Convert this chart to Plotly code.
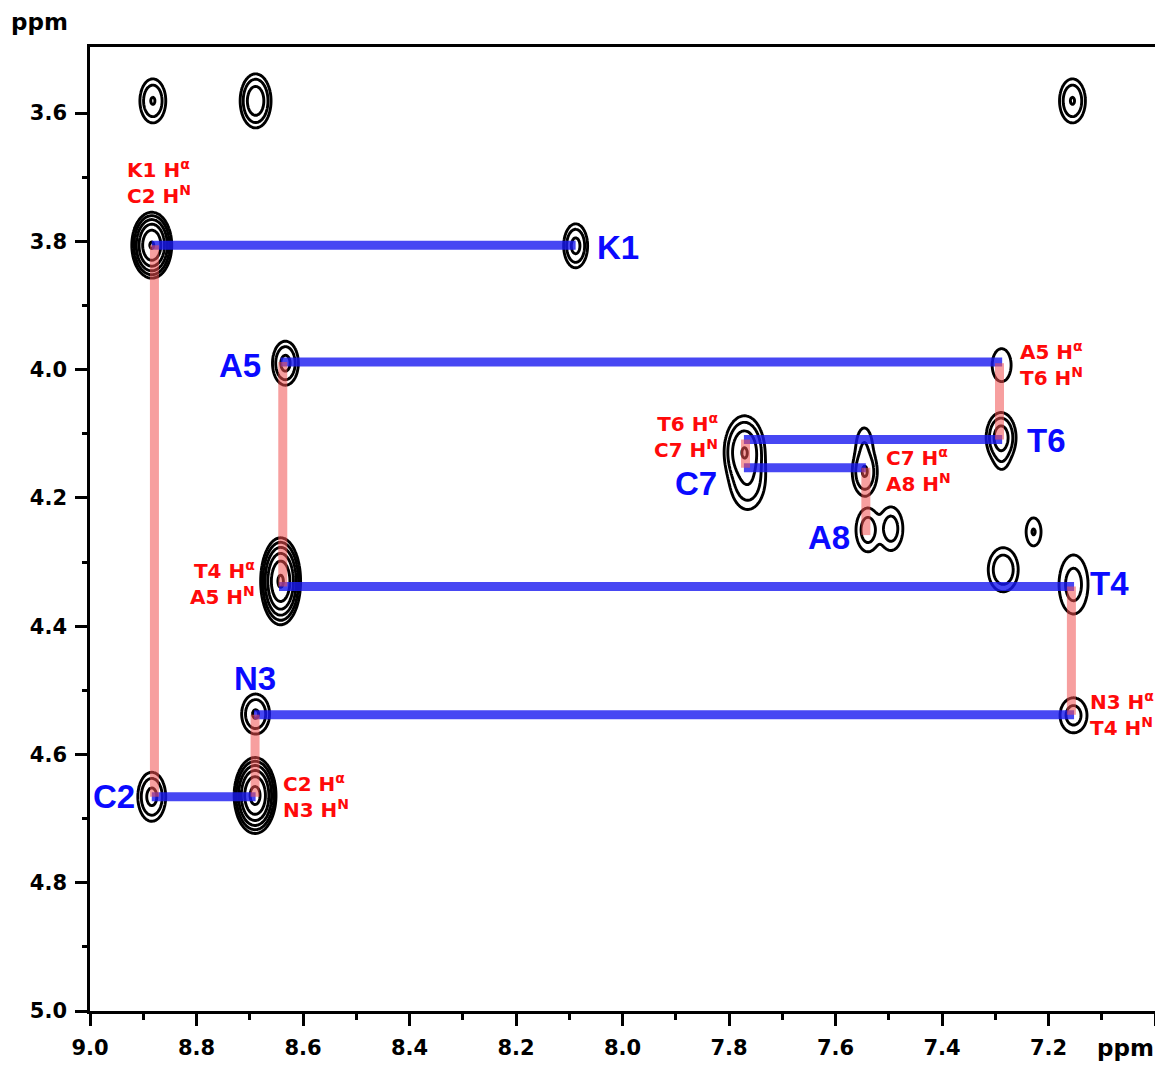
import numpy as np
import plotly.graph_objects as go

# ---------------- data ----------------
# Cross peaks: centre (ppm), outer-contour half widths (ppm), intensity (units of lowest contour level)
peak_x = [8.882, 8.689, 7.155, 8.884, 8.088, 8.633, 7.288, 7.289, 7.288, 7.771,
          7.765, 7.545, 7.546, 7.539, 7.496, 7.228, 7.285, 7.153, 8.642, 8.689,
          7.153, 8.884, 8.690]
peak_y = [3.581, 3.581, 3.581, 3.806, 3.807, 3.990, 3.993, 4.106, 4.136, 4.128,
          4.170, 4.160, 4.121, 4.250, 4.248, 4.253, 4.312, 4.335, 4.330, 4.537,
          4.539, 4.666, 4.664]
peak_wx = [0.0243, 0.0290, 0.0243, 0.0375, 0.0225, 0.0243, 0.0178, 0.0281, 0.0120, 0.0380,
           0.0330, 0.0234, 0.0150, 0.0225, 0.0225, 0.0140, 0.0281, 0.0272, 0.0375, 0.0262,
           0.0253, 0.0262, 0.0393]
peak_wy = [0.0343, 0.0421, 0.0343, 0.0514, 0.0343, 0.0343, 0.0257, 0.0390, 0.0180, 0.0560,
           0.0480, 0.0370, 0.0300, 0.0340, 0.0340, 0.0218, 0.0343, 0.0460, 0.0678, 0.0312,
           0.0273, 0.0382, 0.0592]
peak_int = [2.30, 3.11, 2.30, 7.75, 2.54, 2.54, 1.22, 2.82, 1.35, 3.40,
            2.20, 2.30, 1.50, 1.84, 1.84, 1.53, 2.07, 1.79, 7.90, 2.34,
            1.80, 2.54, 8.58]

# Sequential walk: horizontal (blue) and vertical (red) connectivities, ppm
blue_y = [3.806, 3.988, 4.109, 4.153, 4.338, 4.538, 4.666]
blue_x0 = [8.884, 8.642, 7.772, 7.772, 8.645, 8.692, 8.884]
blue_x1 = [8.088, 7.287, 7.287, 7.543, 7.152, 7.152, 8.689]

red_x = [8.879, 8.638, 8.690, 7.292, 7.769, 7.543, 7.157]
red_y0 = [3.806, 3.988, 4.538, 3.990, 4.109, 4.153, 4.338]
red_y1 = [4.666, 4.338, 4.666, 4.109, 4.153, 4.258, 4.538]

# Residue labels
res_labels = ["K1", "A5", "T6", "C7", "A8", "T4", "N3", "C2"]
# Cross-peak labels
cross_labels = ["K1 H<sup>α</sup><br>C2 H<sup>N</sup>",
                "A5 H<sup>α</sup><br>T6 H<sup>N</sup>",
                "T6 H<sup>α</sup><br>C7 H<sup>N</sup>",
                "C7 H<sup>α</sup><br>A8 H<sup>N</sup>",
                "T4 H<sup>α</sup><br>A5 H<sup>N</sup>",
                "C2 H<sup>α</sup><br>N3 H<sup>N</sup>",
                "N3 H<sup>α</sup><br>T4 H<sup>N</sup>"]

x_ticks = [9.0, 8.8, 8.6, 8.4, 8.2, 8.0, 7.8, 7.6, 7.4, 7.2, 7.0]
x_ticktext = ["9.0", "8.8", "8.6", "8.4", "8.2", "8.0", "7.8", "7.6", "7.4", "7.2", ""]
y_ticks = [3.6, 3.8, 4.0, 4.2, 4.4, 4.6, 4.8, 5.0]
y_ticktext = ["3.6", "3.8", "4.0", "4.2", "4.4", "4.6", "4.8", "5.0"]

# ---------------- build spectrum field from peaks ----------------
F = 1.5                     # contour level ratio
LNF = np.log(F)
P = 3.0                     # soft-max combination of overlapping peaks
px = np.array(peak_x); py = np.array(peak_y)
pwx = np.array(peak_wx); pwy = np.array(peak_wy)
pA = np.array(peak_int)
lnA = np.log(pA)
sx = pwx / np.sqrt(2 * lnA)
sy = pwy / np.sqrt(2 * lnA)


def field(X, Y):
    Z = np.zeros_like(X)
    for i in range(len(px)):
        g = pA[i] * np.exp(-0.5 * (((X - px[i]) / sx[i]) ** 2 + ((Y - py[i]) / sy[i]) ** 2))
        Z += g ** P
    return Z ** (1.0 / P)


# boxes around peaks, merged when overlapping
boxes = []
for i in range(len(px)):
    boxes.append([px[i] - 2.3 * pwx[i], px[i] + 2.3 * pwx[i],
                  py[i] - 2.3 * pwy[i], py[i] + 2.3 * pwy[i]])
merged = True
while merged:
    merged = False
    out = []
    while boxes:
        b = boxes.pop()
        changed = True
        while changed:
            changed = False
            for o in boxes[:]:
                if not (o[1] < b[0] or o[0] > b[1] or o[3] < b[2] or o[2] > b[3]):
                    b = [min(b[0], o[0]), max(b[1], o[1]), min(b[2], o[2]), max(b[3], o[3])]
                    boxes.remove(o)
                    changed = True
                    merged = True
        out.append(b)
    boxes = out

fig = go.Figure()
for b in boxes:
    xs = np.arange(b[0], b[1], 1.0 / 534)
    ys = np.arange(b[2], b[3], 1.0 / 641.5)
    X, Y = np.meshgrid(xs, ys)
    Z = np.log(np.maximum(field(X, Y), 0.05))
    fig.add_trace(go.Contour(
        x=np.round(xs, 5), y=np.round(ys, 5), z=np.round(Z, 4),
        contours=dict(start=0.0, end=LNF * 9, size=LNF, coloring="none"),
        line=dict(color="black", width=2.9, smoothing=1.2),
        showscale=False, hoverinfo="skip"))

# blue horizontal connectivities
bx, by = [], []
for x0, x1, y in zip(blue_x0, blue_x1, blue_y):
    bx += [x0, x1, None]
    by += [y, y, None]
fig.add_trace(go.Scatter(x=bx, y=by, mode="lines",
                         line=dict(color="rgba(25,25,240,0.8)", width=9),
                         hoverinfo="skip", showlegend=False))
# red vertical connectivities
rx, ry = [], []
for x, y0, y1 in zip(red_x, red_y0, red_y1):
    rx += [x, x, None]
    ry += [y0, y1, None]
fig.add_trace(go.Scatter(x=rx, y=ry, mode="lines",
                         line=dict(color="rgba(240,80,80,0.55)", width=9),
                         hoverinfo="skip", showlegend=False))

FONT_B = "Liberation Sans, Arial, Helvetica, sans-serif"
FONT_R = "DejaVu Sans, Verdana, sans-serif"
BLUE = "#0a0aff"
RED = "#ff0a0a"

res_pos = [(8.052, 3.810, "left"), (8.676, 3.994, "right"), (7.245, 4.111, "left"),
           (7.818, 4.177, "right"), (7.569, 4.261, "right"), (7.125, 4.334, "left"),
           (8.691, 4.481, "center"), (8.912, 4.666, "right")]
for t, (x, y, xa) in zip(res_labels, res_pos):
    fig.add_annotation(x=x, y=y, text=t, showarrow=False, xanchor=xa, yanchor="middle",
                       font=dict(family=FONT_B, size=33, color=BLUE, weight="bold"))

cross_pos = [(8.934, 3.708, "left"), (7.258, 3.991, "left"), (7.816, 4.104, "right"),
             (7.509, 4.157, "left"), (8.687, 4.333, "right"), (8.642, 4.665, "left"),
             (7.126, 4.537, "left")]
for t, (x, y, xa) in zip(cross_labels, cross_pos):
    fig.add_annotation(x=x, y=y, text=t, showarrow=False, xanchor=xa, yanchor="middle",
                       align=xa, font=dict(family=FONT_R, size=20, color=RED, weight="bold"))

fig.add_annotation(xref="paper", yref="paper", x=-0.047, y=1.026, text="ppm", showarrow=False,
                   xanchor="center", yanchor="middle",
                   font=dict(family=FONT_R, size=23, color="black", weight="bold"))
fig.add_annotation(xref="paper", yref="paper", x=0.972, y=-0.038, text="ppm", showarrow=False,
                   xanchor="center", yanchor="middle",
                   font=dict(family=FONT_R, size=23, color="black", weight="bold"))

axis_common = dict(showgrid=False, zeroline=False, showline=True, linecolor="black",
                   linewidth=2.5, mirror=True, ticks="outside", ticklen=12, tickwidth=2.5,
                   tickcolor="black", ticklabelstandoff=4,
                   tickfont=dict(family=FONT_R, size=21, color="black", weight="bold"))
fig.update_xaxes(range=[9.0, 7.0], tickmode="array", tickvals=x_ticks, ticktext=x_ticktext,
                 minor=dict(tickvals=[8.9, 8.7, 8.5, 8.3, 8.1, 7.9, 7.7, 7.5, 7.3, 7.1],
                            ticks="outside", ticklen=6, tickwidth=2.5, tickcolor="black"),
                 **axis_common)
fig.update_yaxes(range=[5.0, 3.497], tickmode="array", tickvals=y_ticks, ticktext=y_ticktext,
                 minor=dict(tickvals=[3.7, 3.9, 4.1, 4.3, 4.5, 4.7, 4.9],
                            ticks="outside", ticklen=5, tickwidth=2.5, tickcolor="black"),
                 **axis_common)

# page body adds an 8 px margin; size the figure so the page ends at the window edge
fig.update_layout(width=1155, height=1058, margin=dict(l=82, r=5, t=39, b=55),
                  plot_bgcolor="white", paper_bgcolor="white", showlegend=False)

fig.write_html("out.html")
